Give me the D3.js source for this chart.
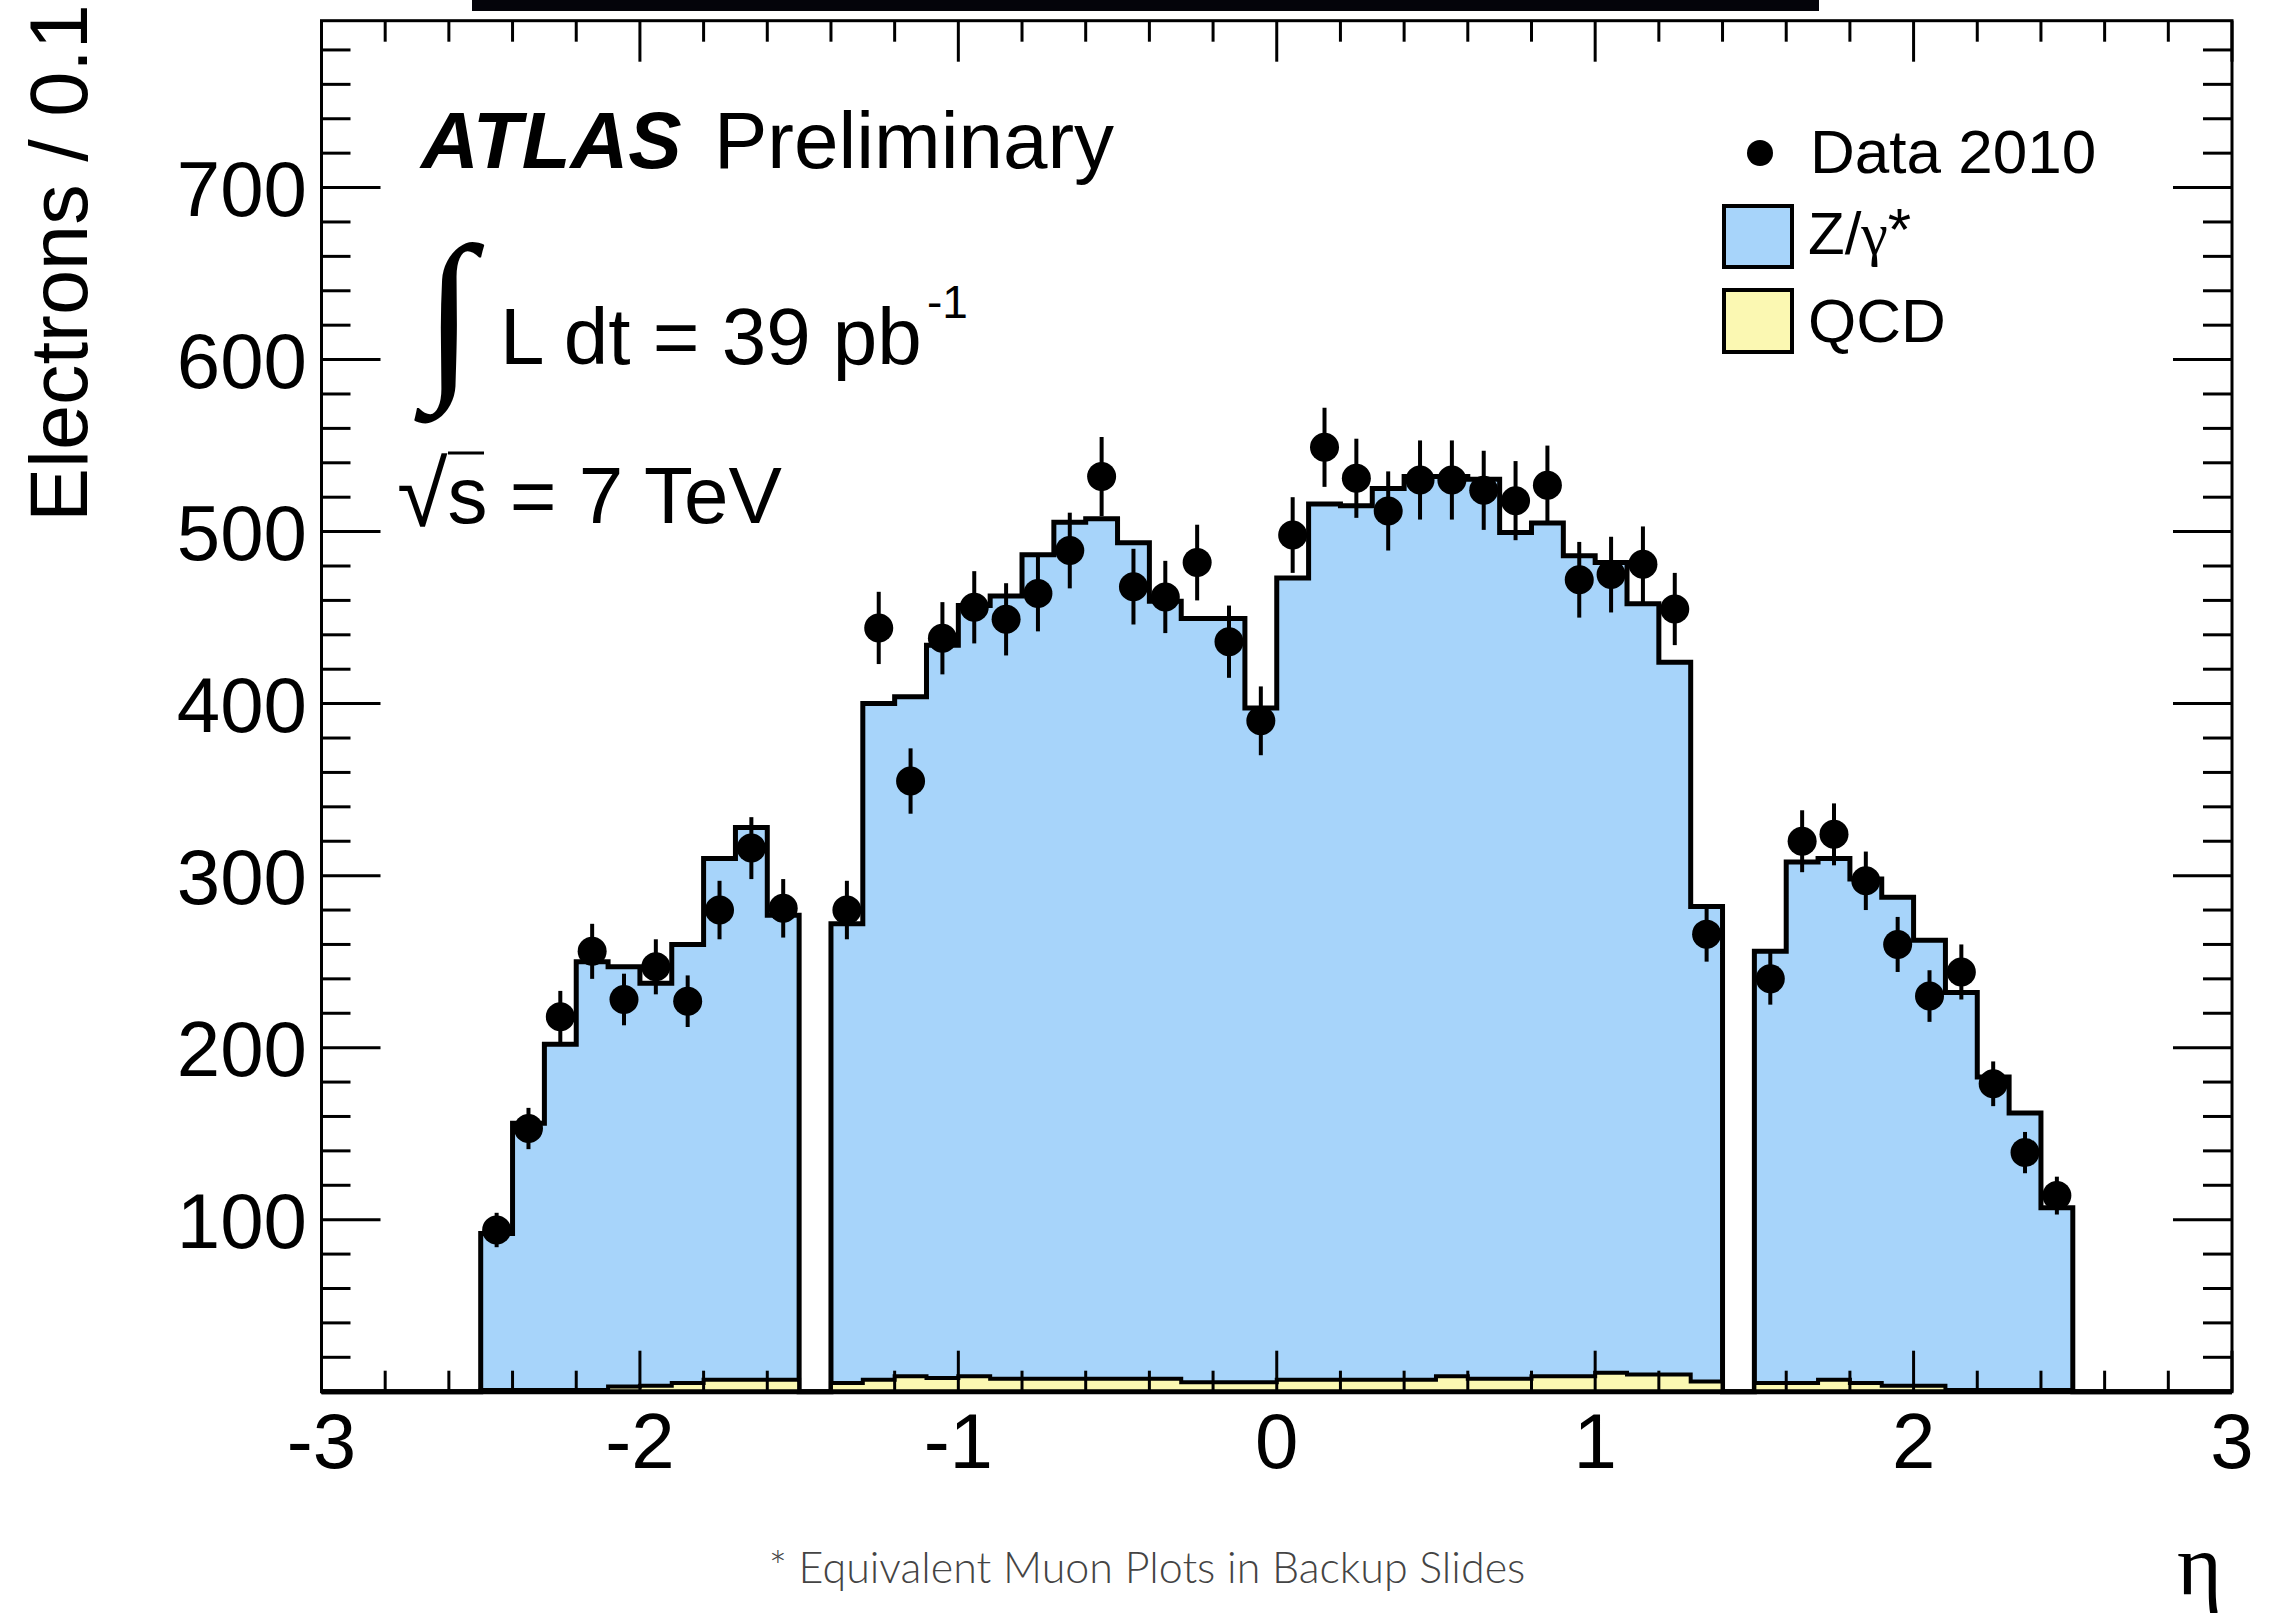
<!DOCTYPE html>
<html>
  <head>
    <meta charset="utf-8">
    <style>
      body { margin: 0; background: #fff; }
      svg text { font-family: "Liberation Sans", Arial, sans-serif; }
    </style>
  </head>
  <body>
    <script src="https://d3js.org/d3.v7.min.js"></script>
    <script>
      // bin low edges, eta bins of 0.1 from -2.5 to 2.5
      var binLow = [-2.5, -2.4, -2.3, -2.2, -2.1, -2.0, -1.9, -1.8, -1.7, -1.6,
                    -1.5, -1.4, -1.3, -1.2, -1.1, -1.0, -0.9, -0.8, -0.7, -0.6,
                    -0.5, -0.4, -0.3, -0.2, -0.1, 0.0, 0.1, 0.2, 0.3, 0.4,
                    0.5, 0.6, 0.7, 0.8, 0.9, 1.0, 1.1, 1.2, 1.3, 1.4,
                    1.5, 1.6, 1.7, 1.8, 1.9, 2.0, 2.1, 2.2, 2.3, 2.4];
      var binWidth = 0.1;

      // Z/gamma* MC (on top of QCD)
      var zgamma = [91, 155, 201, 249, 244, 234, 255, 303, 321, 270,
                    0, 267, 393, 395, 426, 448, 455, 479, 498, 500,
                    486, 452, 444, 444, 392, 466, 509, 508, 518, 525,
                    523, 523, 492, 496, 477, 471, 448, 414, 276, 0,
                    251, 303, 303, 293, 284, 259, 231, 182, 161, 106];
      // QCD background
      var qcd = [1, 1, 1, 1, 3, 3.5, 5, 7, 7, 7,
                 0, 5, 7, 9, 8, 9, 7.5, 7.5, 7.5, 7.5,
                 7.5, 7.5, 5.5, 5.5, 5.5, 7, 7, 7, 7, 7,
                 9, 7.5, 7.5, 9, 9, 11, 10, 10, 6, 0,
                 5, 5, 7, 5, 3.5, 3.5, 1, 1, 1, 1];
      // Data 2010 (null = no entry, crack region)
      var data2010 = [94, 153, 218, 256, 228, 247, 227, 280, 316, 281,
                      null, 280, 444, 355, 438, 456, 449, 464, 489, 532,
                      468, 462, 482, 436, 390, 498, 549, 531, 512, 530,
                      530, 524, 518, 527, 472, 475, 481, 455, 266, null,
                      240, 320, 324, 297, 260, 230, 244, 179, 139, 114];
      var dataErr = [10, 12, 15, 16, 15, 16, 15, 17, 18, 17,
                     null, 17, 21, 19, 21, 21, 21, 22, 22, 23,
                     22, 21, 22, 21, 20, 22, 23, 23, 23, 23,
                     23, 23, 23, 23, 22, 22, 22, 21, 16, null,
                     15, 18, 18, 17, 16, 15, 16, 13, 12, 11];

      var xTicks = [-3, -2, -1, 0, 1, 2, 3];
      var yTicks = [100, 200, 300, 400, 500, 600, 700];

      var W = 2269, H = 1619;
      var svg = d3.select("body").append("svg")
        .attr("width", W).attr("height", H);

      var x = d3.scaleLinear().domain([-3, 3]).range([321.5, 2232]);
      var y = d3.scaleLinear().domain([0, 797]).range([1391.7, 20.7]);

      // cut-off slide title strip at the very top
      svg.append("rect").attr("x", 472).attr("y", 0)
        .attr("width", 1347).attr("height", 11).attr("fill", "#04040a");

      function stepPoints(vals){
        var pts = [[-3, 0], [binLow[0], 0]];
        binLow.forEach(function(lo, i){
          pts.push([lo, vals[i]]);
          pts.push([lo + binWidth, vals[i]]);
        });
        pts.push([binLow[binLow.length-1] + binWidth, 0]);
        pts.push([3, 0]);
        return pts;
      }
      var total = zgamma.map(function(v, i){ return v + qcd[i]; });

      var line = d3.line().x(function(d){ return x(d[0]); }).y(function(d){ return y(d[1]); });
      var area = d3.area().x(function(d){ return x(d[0]); }).y0(y(0)).y1(function(d){ return y(d[1]); });

      var totPts = stepPoints(total), qcdPts = stepPoints(qcd);

      svg.append("path").attr("d", area(totPts)).attr("fill", "#a7d4fa");
      svg.append("path").attr("d", line(totPts)).attr("fill", "none")
        .attr("stroke", "#000").attr("stroke-width", 5).attr("stroke-linejoin", "miter");
      svg.append("path").attr("d", area(qcdPts)).attr("fill", "#fbf8b2");
      svg.append("path").attr("d", line(qcdPts)).attr("fill", "none")
        .attr("stroke", "#000").attr("stroke-width", 4);

      // axes / frame
      var frame = svg.append("g");
      frame.append("rect")
        .attr("x", x(-3)).attr("y", y(797))
        .attr("width", x(3) - x(-3)).attr("height", y(0) - y(797))
        .attr("fill", "none").attr("stroke", "#000").attr("stroke-width", 3);

      var xMinor = d3.range(-3, 3.001, 0.2);
      var yMinor = d3.range(0, 797, 20);
      function isMajorX(v){ return Math.abs(v - Math.round(v)) < 1e-6; }

      xMinor.forEach(function(v){
        var len = isMajorX(v) ? 41 : 21;
        frame.append("line").attr("x1", x(v)).attr("x2", x(v))
          .attr("y1", y(0)).attr("y2", y(0) - len).attr("stroke", "#000").attr("stroke-width", 3);
        frame.append("line").attr("x1", x(v)).attr("x2", x(v))
          .attr("y1", y(797)).attr("y2", y(797) + len).attr("stroke", "#000").attr("stroke-width", 3);
      });
      yMinor.forEach(function(v){
        var len = (v % 100 === 0) ? 59 : 29;
        frame.append("line").attr("x1", x(-3)).attr("x2", x(-3) + len)
          .attr("y1", y(v)).attr("y2", y(v)).attr("stroke", "#000").attr("stroke-width", 3);
        frame.append("line").attr("x1", x(3)).attr("x2", x(3) - len)
          .attr("y1", y(v)).attr("y2", y(v)).attr("stroke", "#000").attr("stroke-width", 3);
      });
      svg.append("line").attr("x1", x(-3)).attr("x2", x(3))
        .attr("y1", y(0)).attr("y2", y(0)).attr("stroke", "#000").attr("stroke-width", 5);

      svg.selectAll(".xl").data(xTicks).enter().append("text")
        .attr("x", function(d){ return x(d); }).attr("y", 1468)
        .attr("text-anchor", "middle").attr("font-size", 78)
        .text(function(d){ return d; });
      svg.selectAll(".yl").data(yTicks).enter().append("text")
        .attr("x", 307).attr("y", function(d){ return y(d) + 28; })
        .attr("text-anchor", "end").attr("font-size", 78)
        .text(function(d){ return d; });

      svg.append("text").attr("transform", "translate(87,522) rotate(-90)")
        .attr("font-size", 81).text("Electrons / 0.1");

      // data points
      var pts = binLow.map(function(lo, i){
        return {x: lo + binWidth / 2, v: data2010[i], e: dataErr[i]};
      }).filter(function(d){ return d.v !== null; });

      svg.selectAll(".err").data(pts).enter().append("line")
        .attr("x1", function(d){ return x(d.x); }).attr("x2", function(d){ return x(d.x); })
        .attr("y1", function(d){ return y(d.v - d.e); }).attr("y2", function(d){ return y(d.v + d.e); })
        .attr("stroke", "#000").attr("stroke-width", 4);
      svg.selectAll(".pt").data(pts).enter().append("circle")
        .attr("cx", function(d){ return x(d.x); }).attr("cy", function(d){ return y(d.v); })
        .attr("r", 14.5).attr("fill", "#000");

      // labels
      svg.append("text").attr("x", 421).attr("y", 168).attr("font-size", 80)
        .attr("font-weight", "bold").attr("font-style", "italic").text("ATLAS");
      svg.append("text").attr("x", 714).attr("y", 168).attr("font-size", 80).text("Preliminary");

      svg.append("text").attr("x", 424).attr("y", 374).attr("font-size", 185)
        .style("font-family", "DejaVu Sans").attr("font-weight", 300).text("\u222B");
      svg.append("text").attr("x", 500).attr("y", 364).attr("font-size", 80).text("L dt = 39 pb");
      svg.append("text").attr("x", 927).attr("y", 318).attr("font-size", 46).text("-1");

      var rs = svg.append("text").attr("x", 397).attr("y", 526).attr("font-size", 92);
      rs.append("tspan").text("\u221A");
      rs.append("tspan").attr("dy", -3).attr("font-size", 80).text("s = 7 TeV");
      svg.append("line").attr("x1", 448).attr("x2", 484).attr("y1", 453).attr("y2", 453)
        .attr("stroke", "#000").attr("stroke-width", 3);

      // legend
      var leg = svg.append("g");
      leg.append("circle").attr("cx", 1760).attr("cy", 153).attr("r", 13).attr("fill", "#000");
      leg.append("text").attr("x", 1810).attr("y", 173).attr("font-size", 62).text("Data 2010");
      leg.append("rect").attr("x", 1724).attr("y", 206).attr("width", 68).attr("height", 61)
        .attr("fill", "#a7d4fa").attr("stroke", "#000").attr("stroke-width", 4);
      var zt = leg.append("text").attr("x", 1808).attr("y", 254).attr("font-size", 60);
      zt.append("tspan").text("Z/");
      zt.append("tspan").style("font-family", "'Liberation Serif', serif").text("\u03B3");
      zt.append("tspan").attr("dy", -4).text("*");
      leg.append("rect").attr("x", 1724).attr("y", 290).attr("width", 68).attr("height", 62)
        .attr("fill", "#fbf8b2").attr("stroke", "#000").attr("stroke-width", 4);
      leg.append("text").attr("x", 1808).attr("y", 342).attr("font-size", 62).text("QCD");

      // slide footer and axis title
      svg.append("text").attr("x", 1147).attr("y", 1583).attr("text-anchor", "middle")
        .attr("font-size", 43).attr("font-weight", 300).attr("fill", "#444")
        .style("font-family", "Lato, 'Open Sans', sans-serif")
        .text("* Equivalent Muon Plots in Backup Slides");
      svg.append("text").attr("x", 2222).attr("y", 1594).attr("text-anchor", "end")
        .attr("font-size", 86).style("font-family", "'Liberation Serif', serif").text("\u03B7");
    </script>
  </body>
</html>
